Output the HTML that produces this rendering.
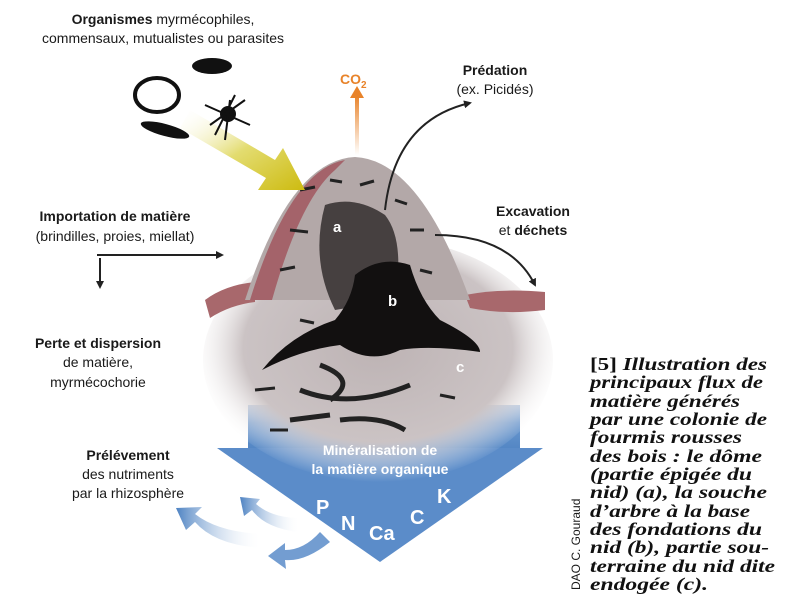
<!DOCTYPE html>
<html><head><meta charset="utf-8"><style>
html,body{margin:0;padding:0;background:#fff;width:808px;height:598px;overflow:hidden}
svg{display:block}
.s{font-family:"Liberation Sans",sans-serif;font-size:14px;fill:#1a1a1a}
.b{font-weight:bold}
.cap{font-family:"Liberation Serif",serif;font-size:18px;font-weight:bold;font-style:italic;fill:#111}
</style></head><body>
<svg width="808" height="598" viewBox="0 0 808 598">
<defs>
<radialGradient id="soil" cx="0.5" cy="0.45" r="0.55">
<stop offset="0" stop-color="#bdb3b4"/><stop offset="0.7" stop-color="#cbc3c4"/><stop offset="1" stop-color="#fff" stop-opacity="0"/>
</radialGradient>
<linearGradient id="blue" x1="0" y1="0" x2="0" y2="1">
<stop offset="0" stop-color="#a9c3e3"/><stop offset="0.35" stop-color="#6b98cf"/><stop offset="1" stop-color="#4d82c2"/>
</linearGradient>
<linearGradient id="yel" x1="0" y1="0" x2="1" y2="1">
<stop offset="0" stop-color="#fff" stop-opacity="0"/><stop offset="0.5" stop-color="#e3dc70"/><stop offset="1" stop-color="#cdbb10"/>
</linearGradient>
<linearGradient id="bl2" x1="1" y1="0" x2="0" y2="0">
<stop offset="0" stop-color="#fff" stop-opacity="0"/><stop offset="1" stop-color="#4d82c2"/>
</linearGradient>
<linearGradient id="or" x1="0" y1="1" x2="0" y2="0">
<stop offset="0" stop-color="#fff"/><stop offset="1" stop-color="#e8832a"/>
</linearGradient>
<marker id="ah" markerWidth="8" markerHeight="8" refX="6" refY="4" orient="auto" markerUnits="userSpaceOnUse"><path d="M0,0 L8,4 L0,8 Z" fill="#222"/></marker>
</defs>

<rect x="248" y="405" width="272" height="50" fill="url(#blue)"/>
<path d="M217,448 L543,448 L380,562 Z" fill="#5b8cc9"/>
<ellipse cx="378" cy="360" rx="175" ry="122" fill="url(#soil)"/>
<path d="M205,300 Q225,285 255,282 L255,302 Q230,305 210,318 Z" fill="#a8686c"/>
<path d="M465,295 Q500,288 545,292 L545,310 Q505,315 470,308 Z" fill="#a8686c"/>
<path d="M245,300 Q290,160 355,157 Q420,160 470,300 Z" fill="#b3a8a8"/>
<path d="M250,300 Q290,170 345,160 L335,170 Q300,200 272,300 Z" fill="#a4636a"/>
<g stroke="#222" stroke-width="3" fill="none">
<path d="M300,190 l15,-3 M330,180 l12,2 M360,185 l14,-4 M290,230 l18,2 M395,200 l12,4 M410,230 l14,0 M280,270 l15,-3 M420,270 l12,3 M300,320 l14,3 M255,390 l20,-2 M440,395 l15,3 M270,430 l18,0"/>
</g>
<path d="M325,205 Q355,195 385,215 Q405,240 395,300 L335,310 Q310,260 325,205 Z" fill="#2a2626" opacity="0.8"/>
<path d="M355,275 Q380,255 410,265 Q420,300 440,320 Q480,340 480,352 Q430,345 400,350 Q370,365 340,345 Q300,350 262,370 Q290,335 335,320 Q352,300 355,275 Z" fill="#121010"/>
<path d="M320,365 Q360,380 330,400 M300,390 Q350,410 410,385 M340,420 Q380,415 405,430 M290,420 L330,415" stroke="#222" stroke-width="5" fill="none"/>
<text x="333" y="232" class="s b" style="fill:#fff;font-size:15px">a</text>
<text x="388" y="306" class="s b" style="fill:#fff;font-size:15px">b</text>
<text x="456" y="372" class="s b" style="fill:#fff;font-size:15px">c</text>

<path d="M190,110 L275,160 L283,148 L305,190 L258,190 L266,178 L180,128 Z" fill="url(#yel)"/>
<ellipse cx="212" cy="66" rx="20" ry="8" fill="#111"/>
<ellipse cx="157" cy="95" rx="22" ry="17" fill="none" stroke="#111" stroke-width="4"/>
<ellipse cx="165" cy="130" rx="25" ry="6" fill="#111" transform="rotate(15 165 130)"/>
<circle cx="228" cy="114" r="8" fill="#111"/>
<path d="M205,105 L250,125 M210,125 L245,100 M215,135 L235,95 M225,140 L230,100" stroke="#111" stroke-width="2"/>

<rect x="355" y="95" width="4" height="60" fill="url(#or)"/>
<path d="M350,98 L357,86 L364,98 Z" fill="#e8832a"/>
<text x="340" y="84" class="s b" style="fill:#e8832a;font-size:14px">CO<tspan font-size="10" dy="4">2</tspan></text>

<path d="M385,210 Q395,120 470,103" stroke="#222" stroke-width="2" fill="none" marker-end="url(#ah)"/>
<path d="M435,235 Q510,235 535,285" stroke="#222" stroke-width="2" fill="none" marker-end="url(#ah)"/>
<line x1="97" y1="255" x2="222" y2="255" stroke="#222" stroke-width="2" marker-end="url(#ah)"/>
<line x1="100" y1="258" x2="100" y2="287" stroke="#222" stroke-width="2" marker-end="url(#ah)"/>

<path d="M262,548 Q215,545 195,522 L186,530 L176,508 L202,507 L195,514 Q218,532 262,534 Z" fill="url(#bl2)"/>
<path d="M298,532 Q265,528 252,510 L244,516 L240,497 L260,499 L256,504 Q272,518 300,518 Z" fill="url(#bl2)"/>
<path d="M330,542 Q305,562 285,560 L286,569 L268,556 L285,543 L285,550 Q304,550 320,532 Z" fill="#5b8cc9" opacity="0.85"/>

<text x="380" y="455" text-anchor="middle" class="s b" style="fill:#fff;font-size:14px">Minéralisation de</text>
<text x="380" y="474" text-anchor="middle" class="s b" style="fill:#fff;font-size:14px">la matière organique</text>
<g class="s b" style="font-size:20px">
<text x="316" y="514" style="fill:#fff">P</text>
<text x="341" y="530" style="fill:#fff">N</text>
<text x="369" y="540" style="fill:#fff">Ca</text>
<text x="410" y="524" style="fill:#fff">C</text>
<text x="437" y="503" style="fill:#fff">K</text>
</g>

<text x="163" y="24" text-anchor="middle" class="s"><tspan class="b">Organismes</tspan> myrmécophiles,</text>
<text x="163" y="43" text-anchor="middle" class="s">commensaux, mutualistes ou parasites</text>
<text x="495" y="75" text-anchor="middle" class="s b">Prédation</text>
<text x="495" y="94" text-anchor="middle" class="s">(ex. Picidés)</text>
<text x="533" y="216" text-anchor="middle" class="s b">Excavation</text>
<text x="533" y="235" text-anchor="middle" class="s">et <tspan class="b">déchets</tspan></text>
<text x="115" y="221" text-anchor="middle" class="s b">Importation de matière</text>
<text x="115" y="241" text-anchor="middle" class="s">(brindilles, proies, miellat)</text>
<text x="98" y="348" text-anchor="middle" class="s b">Perte et dispersion</text>
<text x="98" y="367" text-anchor="middle" class="s">de matière,</text>
<text x="98" y="387" text-anchor="middle" class="s">myrmécochorie</text>
<text x="128" y="460" text-anchor="middle" class="s b">Prélévement</text>
<text x="128" y="479" text-anchor="middle" class="s">des nutriments</text>
<text x="128" y="498" text-anchor="middle" class="s">par la rhizosphère</text>
<text transform="translate(580,590) rotate(-90)" class="s" style="font-size:12px">DAO C. Gouraud</text>

<g class="cap">
<text x="590" y="370" textLength="177" lengthAdjust="spacingAndGlyphs"><tspan font-style="normal">[5]</tspan> Illustration des</text>
<text x="590" y="388" textLength="173" lengthAdjust="spacingAndGlyphs">principaux flux de</text>
<text x="590" y="407" textLength="150" lengthAdjust="spacingAndGlyphs">matière générés</text>
<text x="590" y="425" textLength="177" lengthAdjust="spacingAndGlyphs">par une colonie de</text>
<text x="590" y="443" textLength="152" lengthAdjust="spacingAndGlyphs">fourmis rousses</text>
<text x="590" y="462" textLength="172" lengthAdjust="spacingAndGlyphs">des bois : le dôme</text>
<text x="590" y="480" textLength="162" lengthAdjust="spacingAndGlyphs">(partie épigée du</text>
<text x="590" y="498" textLength="177" lengthAdjust="spacingAndGlyphs">nid) (a), la souche</text>
<text x="590" y="517" textLength="160" lengthAdjust="spacingAndGlyphs">d’arbre à la base</text>
<text x="590" y="535" textLength="172" lengthAdjust="spacingAndGlyphs">des fondations du</text>
<text x="590" y="553" textLength="179" lengthAdjust="spacingAndGlyphs">nid (b), partie sou-</text>
<text x="590" y="572" textLength="185" lengthAdjust="spacingAndGlyphs">terraine du nid dite</text>
<text x="590" y="590" textLength="118" lengthAdjust="spacingAndGlyphs">endogée (c).</text>
</g>
</svg>
</body></html>
